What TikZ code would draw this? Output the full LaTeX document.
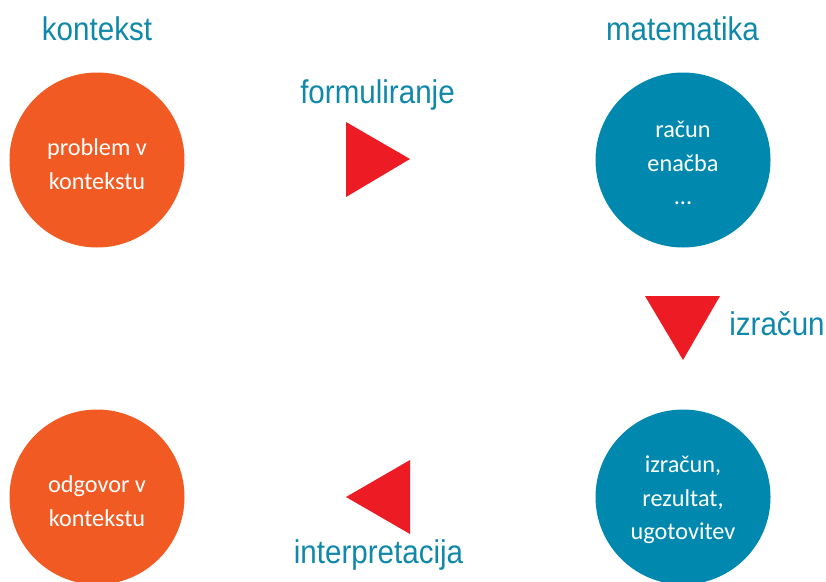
\documentclass[tikz,border=0pt]{standalone}
\usepackage{fontspec}
\setmainfont{Carlito}
\newfontfamily\headfont[FakeStretch=0.9]{Liberation Sans}
\usepackage{tkz-euclide}
\usetikzlibrary{calc}

\definecolor{oranzna}{HTML}{F15A22}
\definecolor{modra}{HTML}{0088AE}
\definecolor{naslov}{HTML}{1088AA}
\definecolor{rdeca}{HTML}{ED1C24}

\tikzset{
  krog/.style={circle,minimum size=3.5cm,inner sep=0pt,fill=#1},
  vsebina/.style={text=white,align=center,inner sep=0pt,
    font=\fontsize{13.8pt}{19pt}\selectfont},
  naslov/.style={anchor=base,text=naslov,inner sep=0pt,
    font=\headfont\fontsize{18.7pt}{20pt}\selectfont}
}

\begin{document}
\begin{tikzpicture}
                    \useasboundingbox (0,0) rectangle (16.52,11.62);

                    \node[krog=oranzna] (K1) at (1.94,8.42) {};
                    \node[krog=modra]   (M1) at (13.66,8.42) {};
                    \node[krog=modra]   (M2) at (13.66,1.68) {};
                    \node[krog=oranzna] (K2) at (1.94,1.68) {};

                    \node[vsebina] (TK1) at ($(K1)+(0,-0.08)$) {problem v\\kontekstu};
                    \node[vsebina] (TM1) at ($(M1)+(0,-0.06)$) {račun\\enačba\\...};
                    \node[vsebina] (TM2) at ($(M2)+(0,-0.06)$) {izračun,\\rezultat,\\ugotovitev};
                    \node[vsebina] (TK2) at ($(K2)+(0,-0.08)$) {odgovor v\\kontekstu};

                    \node[naslov] (NK) at (1.94,10.82) {kontekst};
                    \node[naslov] (NM) at (13.65,10.82) {matematika};

                    % formuliranje
                    \tkzDefPoint(6.92,9.18){A1}
                    \tkzDefPoint(6.92,7.68){A2}
                    \tkzDefPoint(8.20,8.44){A3}
                    \tkzFillPolygon[fill=rdeca](A1,A2,A3)
                    \node[naslov] (NF) at (7.55,9.56) {formuliranje};

                    % izracun
                    \tkzDefPoint(12.90,5.70){B1}
                    \tkzDefPoint(14.40,5.70){B2}
                    \tkzDefPoint(13.66,4.42){B3}
                    \tkzFillPolygon[fill=rdeca](B1,B2,B3)
                    \node[naslov] (NI) at (15.54,4.92) {izračun};

                    % interpretacija
                    \tkzDefPoint(8.20,2.42){C1}
                    \tkzDefPoint(8.20,0.94){C2}
                    \tkzDefPoint(6.92,1.68){C3}
                    \tkzFillPolygon[fill=rdeca](C1,C2,C3)
                    \node[naslov] (NP) at (7.57,0.36) {interpretacija};
\end{tikzpicture}
\end{document}
